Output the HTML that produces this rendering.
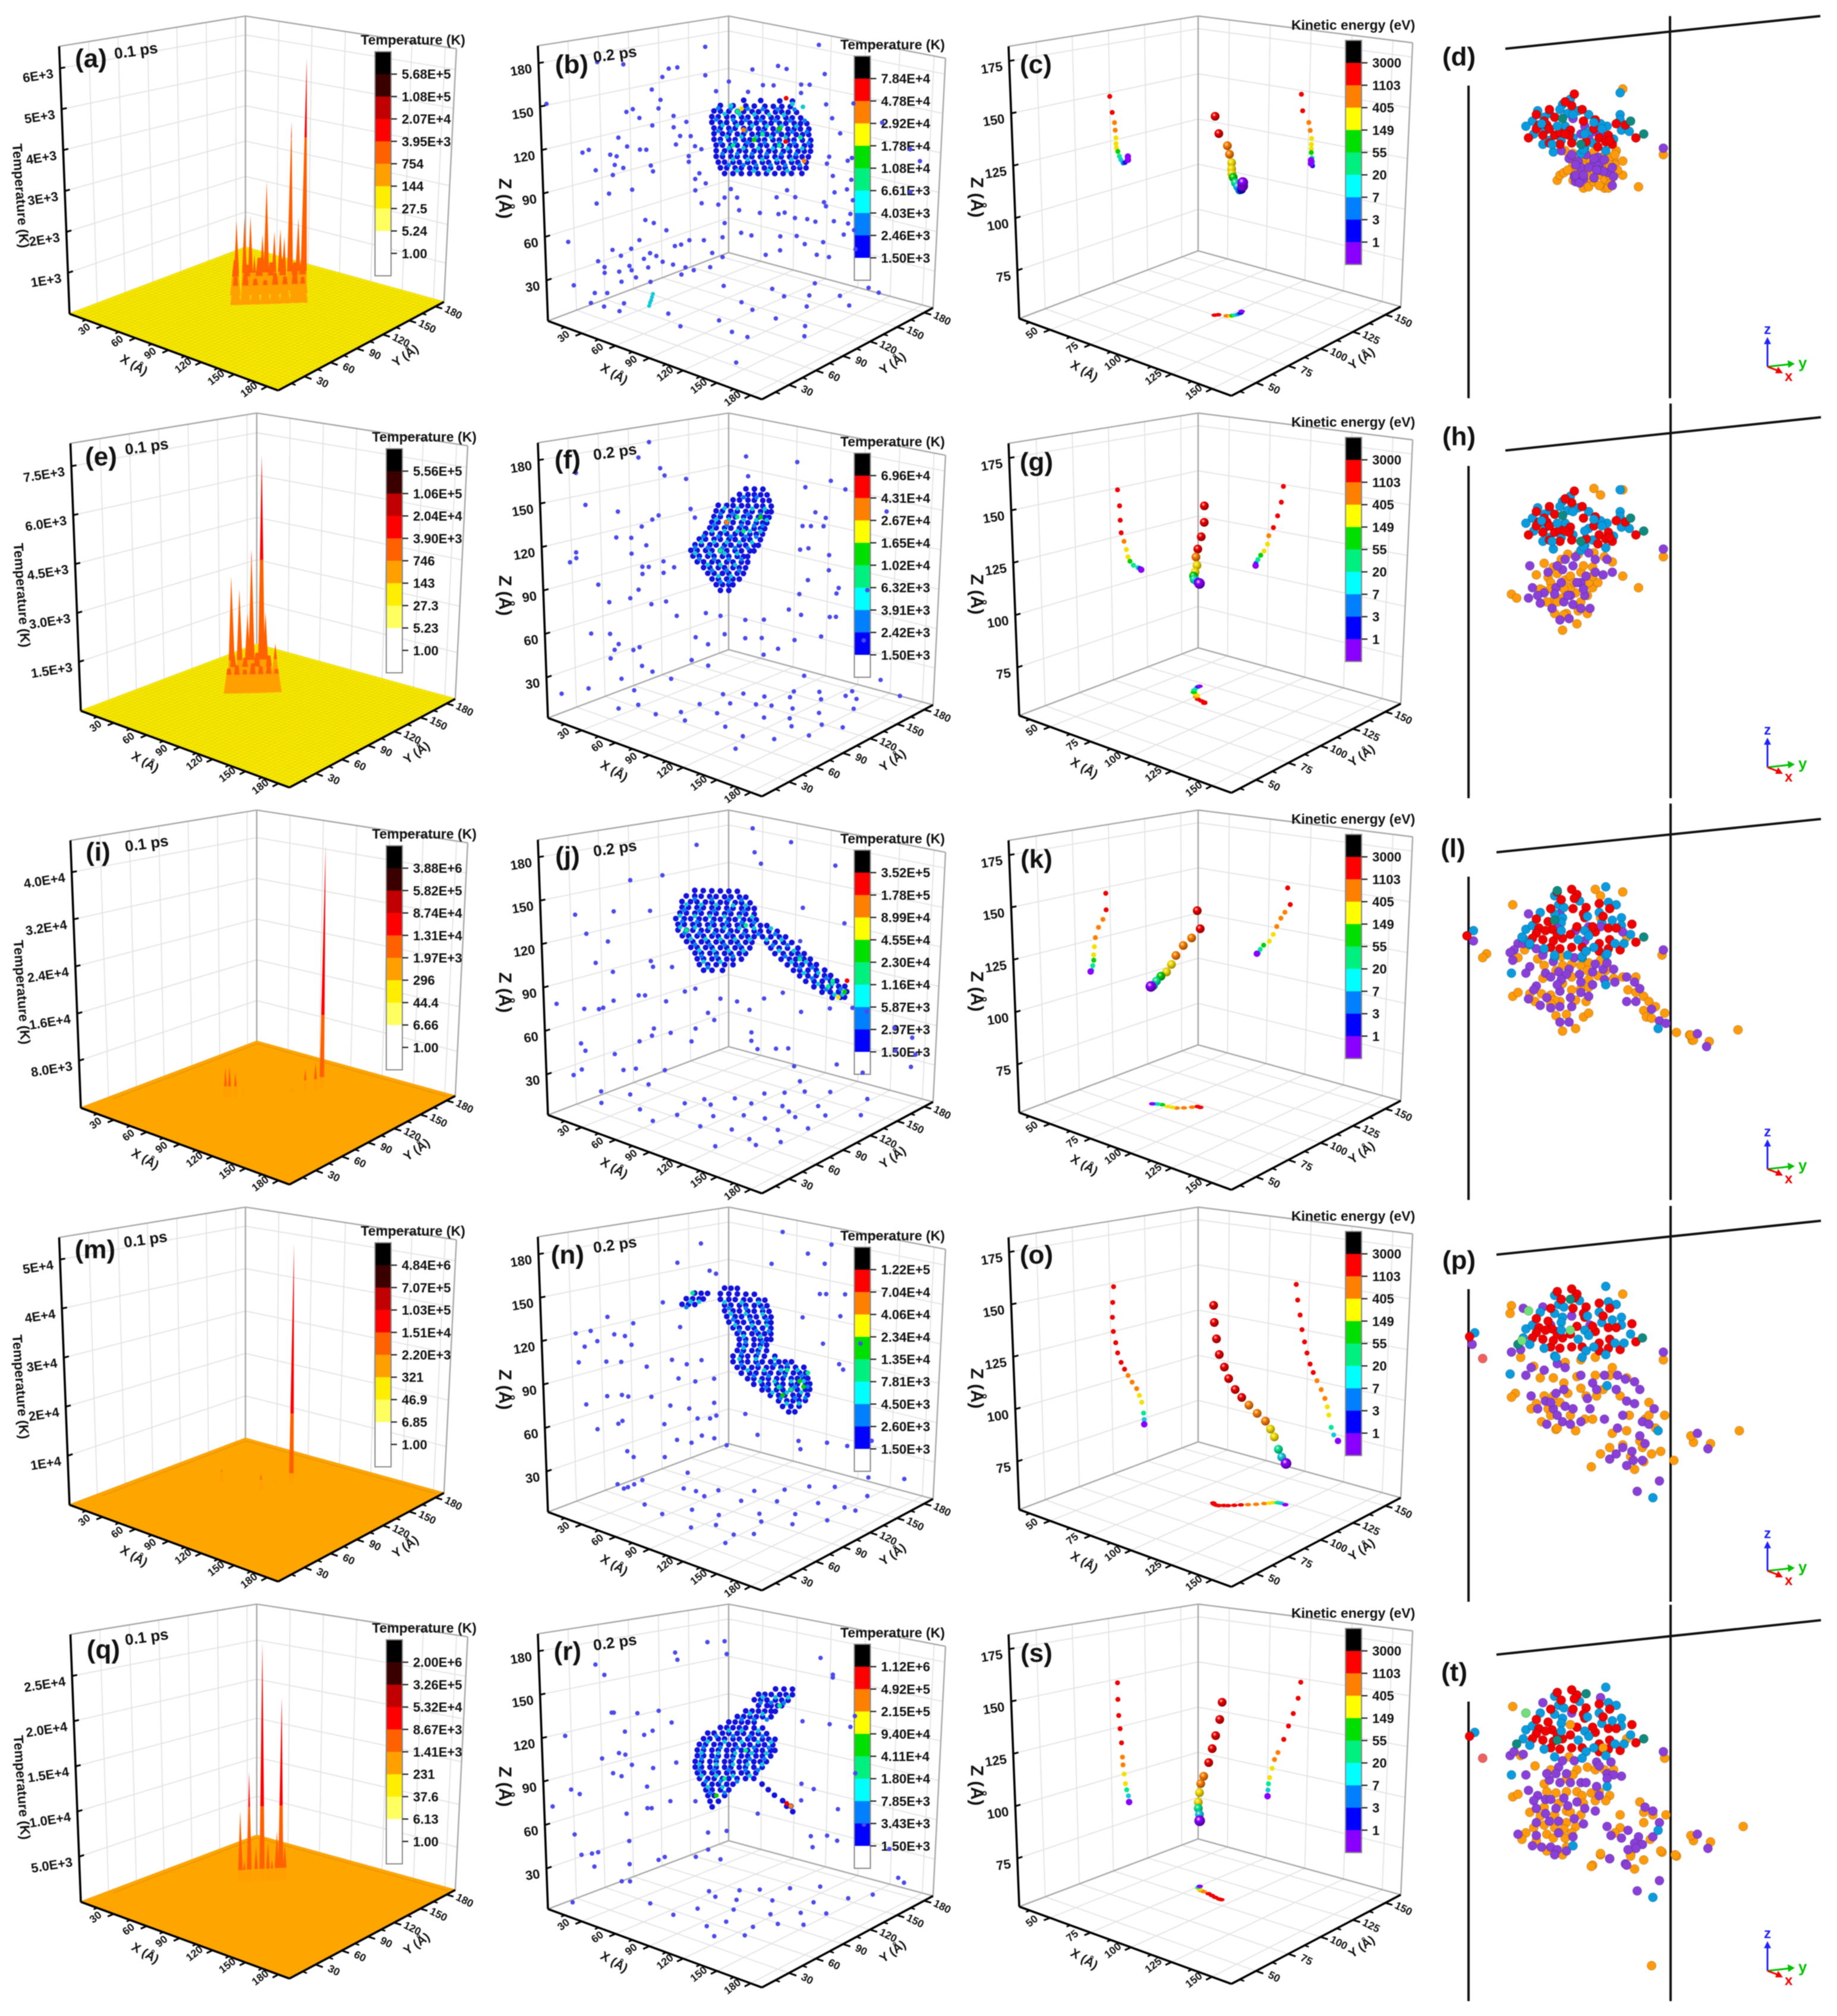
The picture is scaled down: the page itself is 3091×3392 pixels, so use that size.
<!DOCTYPE html>
<html lang="en"><head><meta charset="utf-8"><title>Temperature and kinetic energy panels</title>
<style>
html,body{margin:0;padding:0;background:#fff}
svg{display:block;filter:blur(.7px)}
text{font-family:"Liberation Sans",sans-serif;font-weight:bold;fill:#111}
.lab{font-size:44px;text-anchor:middle}
.time{font-size:26px;text-anchor:middle}
.cbt{font-size:23px;text-anchor:middle}
.zt{font-size:23px;text-anchor:middle}
.zz{font-size:30px;text-anchor:middle}
.axt{font-size:21px;text-anchor:middle}
</style></head><body>
<svg id="figure" width="3091" height="3392" viewBox="0 0 3091 3392">
<defs id="defs"></defs>
<rect width="3091" height="3392" fill="#fff"/>

<g id="panel-a" transform="translate(0,0)"><g id="m-a"></g>
<text class="lab" x="153" y="113">(a)</text><text class="time" transform="translate(230,94) rotate(-8)">0.1 ps</text><text class="cbt" x="695" y="75">Temperature (K)</text><text class="zt" transform="translate(27,330) rotate(86)">Temperature (K)</text><text class="axt" transform="translate(222,620) rotate(30)">X (Å)</text><text class="axt" transform="translate(686,604) rotate(-35)">Y (Å)</text></g>
<g id="panel-e" transform="translate(19,668)"><g id="m-e"></g>
<text class="lab" x="151" y="115">(e)</text><text class="time" transform="translate(229,92) rotate(-8)">0.1 ps</text><text class="cbt" x="695" y="75">Temperature (K)</text><text class="zt" transform="translate(10,334) rotate(86)">Temperature (K)</text><text class="axt" transform="translate(222,620) rotate(30)">X (Å)</text><text class="axt" transform="translate(686,604) rotate(-35)">Y (Å)</text></g>
<g id="panel-i" transform="translate(19,1336)"><g id="m-i"></g>
<text class="lab" x="146" y="112">(i)</text><text class="time" transform="translate(229,92) rotate(-8)">0.1 ps</text><text class="cbt" x="695" y="75">Temperature (K)</text><text class="zt" transform="translate(10,334) rotate(86)">Temperature (K)</text><text class="axt" transform="translate(222,620) rotate(30)">X (Å)</text><text class="axt" transform="translate(686,604) rotate(-35)">Y (Å)</text></g>
<g id="panel-m" transform="translate(0,2004)"><g id="m-m"></g>
<text class="lab" x="160" y="113">(m)</text><text class="time" transform="translate(246,90) rotate(-8)">0.1 ps</text><text class="cbt" x="695" y="75">Temperature (K)</text><text class="zt" transform="translate(27,330) rotate(86)">Temperature (K)</text><text class="axt" transform="translate(222,620) rotate(30)">X (Å)</text><text class="axt" transform="translate(686,604) rotate(-35)">Y (Å)</text></g>
<g id="panel-q" transform="translate(19,2672)"><g id="m-q"></g>
<text class="lab" x="155" y="118">(q)</text><text class="time" transform="translate(229,91) rotate(-8)">0.1 ps</text><text class="cbt" x="695" y="75">Temperature (K)</text><text class="zt" transform="translate(10,336) rotate(86)">Temperature (K)</text><text class="axt" transform="translate(222,620) rotate(30)">X (Å)</text><text class="axt" transform="translate(686,604) rotate(-35)">Y (Å)</text></g>

<g id="panel-b" transform="translate(0,0)"><g id="m-b"></g>
<text class="lab" x="962" y="123">(b)</text><text class="time" transform="translate(1036,100) rotate(-8)">0.2 ps</text><text class="cbt" x="1502" y="83">Temperature (K)</text><text class="zz" transform="translate(840,334) rotate(90)">Z (Å)</text><text class="axt" transform="translate(1030,635) rotate(30)">X (Å)</text><text class="axt" transform="translate(1506,617) rotate(-35)">Y (Å)</text></g>
<g id="panel-f" transform="translate(0,668)"><g id="m-f"></g>
<text class="lab" x="955" y="120">(f)</text><text class="time" transform="translate(1036,101) rotate(-8)">0.2 ps</text><text class="cbt" x="1502" y="83">Temperature (K)</text><text class="zz" transform="translate(840,334) rotate(90)">Z (Å)</text><text class="axt" transform="translate(1030,635) rotate(30)">X (Å)</text><text class="axt" transform="translate(1506,617) rotate(-35)">Y (Å)</text></g>
<g id="panel-j" transform="translate(0,1336)"><g id="m-j"></g>
<text class="lab" x="955" y="119">(j)</text><text class="time" transform="translate(1036,100) rotate(-8)">0.2 ps</text><text class="cbt" x="1502" y="83">Temperature (K)</text><text class="zz" transform="translate(840,334) rotate(90)">Z (Å)</text><text class="axt" transform="translate(1030,635) rotate(30)">X (Å)</text><text class="axt" transform="translate(1506,617) rotate(-35)">Y (Å)</text></g>
<g id="panel-n" transform="translate(0,2004)"><g id="m-n"></g>
<text class="lab" x="955" y="122">(n)</text><text class="time" transform="translate(1036,99) rotate(-8)">0.2 ps</text><text class="cbt" x="1502" y="83">Temperature (K)</text><text class="zz" transform="translate(840,334) rotate(90)">Z (Å)</text><text class="axt" transform="translate(1030,635) rotate(30)">X (Å)</text><text class="axt" transform="translate(1506,617) rotate(-35)">Y (Å)</text></g>
<g id="panel-r" transform="translate(0,2672)"><g id="m-r"></g>
<text class="lab" x="955" y="121">(r)</text><text class="time" transform="translate(1036,100) rotate(-8)">0.2 ps</text><text class="cbt" x="1502" y="83">Temperature (K)</text><text class="zz" transform="translate(840,334) rotate(90)">Z (Å)</text><text class="axt" transform="translate(1030,635) rotate(30)">X (Å)</text><text class="axt" transform="translate(1506,617) rotate(-35)">Y (Å)</text></g>

<g id="panel-c" transform="translate(0,0)"><g id="m-c"></g>
<text class="lab" x="1743" y="123">(c)</text><text class="cbt" x="2277" y="50">Kinetic energy (eV)</text><text class="zz" transform="translate(1634,332) rotate(90)">Z (Å)</text><text class="axt" transform="translate(1821,630) rotate(30)">X (Å)</text><text class="axt" transform="translate(2295,609) rotate(-35)">Y (Å)</text></g>
<g id="panel-g" transform="translate(0,668)"><g id="m-g"></g>
<text class="lab" x="1744" y="124">(g)</text><text class="cbt" x="2277" y="50">Kinetic energy (eV)</text><text class="zz" transform="translate(1634,332) rotate(90)">Z (Å)</text><text class="axt" transform="translate(1821,630) rotate(30)">X (Å)</text><text class="axt" transform="translate(2295,609) rotate(-35)">Y (Å)</text></g>
<g id="panel-k" transform="translate(0,1336)"><g id="m-k"></g>
<text class="lab" x="1744" y="124">(k)</text><text class="cbt" x="2277" y="50">Kinetic energy (eV)</text><text class="zz" transform="translate(1634,332) rotate(90)">Z (Å)</text><text class="axt" transform="translate(1821,630) rotate(30)">X (Å)</text><text class="axt" transform="translate(2295,609) rotate(-35)">Y (Å)</text></g>
<g id="panel-o" transform="translate(0,2004)"><g id="m-o"></g>
<text class="lab" x="1744" y="122">(o)</text><text class="cbt" x="2277" y="50">Kinetic energy (eV)</text><text class="zz" transform="translate(1634,332) rotate(90)">Z (Å)</text><text class="axt" transform="translate(1821,630) rotate(30)">X (Å)</text><text class="axt" transform="translate(2295,609) rotate(-35)">Y (Å)</text></g>
<g id="panel-s" transform="translate(0,2672)"><g id="m-s"></g>
<text class="lab" x="1744" y="124">(s)</text><text class="cbt" x="2277" y="50">Kinetic energy (eV)</text><text class="zz" transform="translate(1634,332) rotate(90)">Z (Å)</text><text class="axt" transform="translate(1821,630) rotate(30)">X (Å)</text><text class="axt" transform="translate(2295,609) rotate(-35)">Y (Å)</text></g>

<g id="atoms-box" stroke="#111" stroke-width="4" fill="none">
<path d="M2533 82L3063 27M2810 27V670M2471 144V670"/>
<path d="M2533 758L3064 702M2811 679V1343M2471 784V1343"/>
<path d="M2518 1434L3064 1378M2811 1352V2019M2471 1475V2019"/>
<path d="M2518 2111L3064 2054M2811 2029V2695M2471 2169V2695"/>
<path d="M2518 2784L3064 2726M2811 2700V3367M2471 2863V3367"/>
</g>
<g id="panel-d" transform="translate(0,0)"><g id="m-d"></g><text class="lab" x="2455" y="110">(d)</text></g>
<g id="panel-h" transform="translate(0,668)"><g id="m-h"></g><text class="lab" x="2455" y="81">(h)</text></g>
<g id="panel-l" transform="translate(0,1336)"><g id="m-l"></g><text class="lab" x="2445" y="106">(l)</text></g>
<g id="panel-p" transform="translate(0,2004)"><g id="m-p"></g><text class="lab" x="2455" y="131">(p)</text></g>
<g id="panel-t" transform="translate(0,2672)"><g id="m-t"></g><text class="lab" x="2447" y="156">(t)</text></g>
</svg>
<script>
/* ---------- tick values ---------- */
const xTicksT=[30,60,90,120,150,180], xMinorT=[15,45,75,105,135,165];
const xTicksK=[50,75,100,125,150], xMinorK=[37.5,62.5,87.5,112.5,137.5];
const zTicksScatter=[30,60,90,120,150,180], zTicksTraj=[75,100,125,150,175];
const zTicksA=[1000,2000,3000,4000,5000,6000], zLabelsA=['1E+3','2E+3','3E+3','4E+3','5E+3','6E+3'];
const zTicksE=[1500,3000,4500,6000,7500], zLabelsE=['1.5E+3','3.0E+3','4.5E+3','6.0E+3','7.5E+3'];
const zTicksI=[8000,16000,24000,32000,40000], zLabelsI=['8.0E+3','1.6E+4','2.4E+4','3.2E+4','4.0E+4'];
const zTicksM=[10000,20000,30000,40000,50000], zLabelsM=['1E+4','2E+4','3E+4','4E+4','5E+4'];
const zTicksQ=[5000,10000,15000,20000,25000], zLabelsQ=['5.0E+3','1.0E+4','1.5E+4','2.0E+4','2.5E+4'];
/* ---------- colorbar labels ---------- */
const cbA=['5.68E+5','1.08E+5','2.07E+4','3.95E+3','754','144','27.5','5.24','1.00'];
const cbE=['5.56E+5','1.06E+5','2.04E+4','3.90E+3','746','143','27.3','5.23','1.00'];
const cbI=['3.88E+6','5.82E+5','8.74E+4','1.31E+4','1.97E+3','296','44.4','6.66','1.00'];
const cbM=['4.84E+6','7.07E+5','1.03E+5','1.51E+4','2.20E+3','321','46.9','6.85','1.00'];
const cbQ=['2.00E+6','3.26E+5','5.32E+4','8.67E+3','1.41E+3','231','37.6','6.13','1.00'];
const cbB=['7.84E+4','4.78E+4','2.92E+4','1.78E+4','1.08E+4','6.61E+3','4.03E+3','2.46E+3','1.50E+3'];
const cbF=['6.96E+4','4.31E+4','2.67E+4','1.65E+4','1.02E+4','6.32E+3','3.91E+3','2.42E+3','1.50E+3'];
const cbJ=['3.52E+5','1.78E+5','8.99E+4','4.55E+4','2.30E+4','1.16E+4','5.87E+3','2.97E+3','1.50E+3'];
const cbN=['1.22E+5','7.04E+4','4.06E+4','2.34E+4','1.35E+4','7.81E+3','4.50E+3','2.60E+3','1.50E+3'];
const cbR=['1.12E+6','4.92E+5','2.15E+5','9.40E+4','4.11E+4','1.80E+4','7.85E+3','3.43E+3','1.50E+3'];
const cbKE=['3000','1103','405','149','55','20','7','3','1'];
/* ---------- surface peaks: x, y, temperature ---------- */
const spikesA=[56,116,1840,60,120,1910,63,123,1950,65,125,940,69,129,1470,71,131,2840,75,135,1530,78,138,1600,80,140,1390,83,143,4370,87,147,1880,90,150,6030];
const columnsA=[72,96,700,77,101,820,82,106,640,87,111,600,92,116,780,97,121,680,102,126,820,106,130,650,60,110,900,66,116,780,72,122,950,78,128,820,84,134,900,90,140,800,94,144,900];
const spikesE=[34,124,3380,38,128,2950,42,132,2170,44,134,4250,49,139,7370,51,141,2170,56,146,1130];
const columnsE=[52,100,800,56,104,900,60,108,750,64,112,950,68,116,850,72,120,900,76,124,750,44,114,1000,50,120,900,56,126,1050,62,132,950];
const spikesI=[59,88,5300,61,90,5500,64,93,4400,67,98,2000,88,127,1640,94.5,134,4050,99,140,5000,100,146,43600];
const spikesM=[47,110,2940,78,117,3520,79,131,1170,87,140,51700];
const spikesQ=[55,109,8300,59,114,12770,65,121,27770,68,124,4470,62,118,4000,74,131,21390,72,129,5750,70,126,2500,57,111,2500,76,133,4200];
/* ---------- scatter: off-cluster atoms (position along x=y, z) ---------- */
const sparseB=[77,195,130,199,27,182,39,181,60,179,64,180,57,173,77,175,99,180,111,183,115,181,133,178,3,152,52,164,56,157,55,151,40,148,43,150,46,144,52,139,62,146,68,142,82,164,88,171,97,164,104,169,109,169,122,170,126,170,122,164,134,156,147,157,137,146,141,135,161,143,62,138,65,132,70,132,36,130,40,124,46,122,49,122,63,126,72,125,75,123,69,118,69,114,19,119,22,121,32,118,35,117,34,111,38,109,51,111,52,107,25,107,33,104,74,106,72,102,77,99,31,91,42,94,72,94,89,95,25,84,75,85,83,84,86,89,92,89,111,89,116,94,120,89,134,85,135,82,139,92,145,94,148,86,135,113,136,118,145,115,147,117,138,104,147,101,175,123,180,114,176,91,147,76,146,69,139,71,93,80,103,78,112,77,115,78,120,74,126,73,130,71,48,73,52,71,86,71,58,66,94,64,99,62,113,61,121,61,144,61,149,64,11,57,45,59,62,55,65,56,69,59,76,59,85,61,32,52,41,53,50,50,36,48,53,48,80,50,85,47,106,48,113,51,125,55,134,56,150,50,131,47,137,45,25,44,47,46,56,44,28,40,40,41,49,40,35,37,41,38,61,42,67,40,71,38,79,40,28,36,36,30,43,33,50,30,65,35,13,27,23,22,29,22,21,15,37,15];
const sparseF=[51,195,17,172,46,184,56,177,68,170,58,172,21,150,36,146,70,149,72,143,96,187,97,173,120,184,136,171,124,166,143,165,163,149,129,148,134,144,123,138,127,138,133,138,55,144,52,141,47,136,35,128,42,128,49,123,42,117,16,117,16,113,13,110,47,108,50,108,47,103,57,112,62,108,26,95,45,92,57,104,41,86,31,83,51,82,58,84,63,74,77,76,84,74,96,71,105,71,122,121,126,122,136,117,136,106,126,99,122,89,141,93,140,89,155,91,117,78,123,74,137,72,140,72,104,58,120,56,133,58,112,50,96,58,86,61,72,59,78,54,22,61,31,61,35,54,33,50,31,44,42,50,45,52,46,39,51,35,70,43,78,39,36,30,42,22,20,23,7,19,60,30,105,46,125,30,154,54,163,24,173,11,149,17];
const sparseJ=[99,205,117,196,73,192,100,188,103,180,57,170,42,166,138,180,34,144,16,141,21,128,31,123,51,145,123,149,143,138,122,125,25,108,33,102,51,110,52,106,61,106,45,86,48,86,6,79,19,76,26,76,28,77,33,82,58,82,67,89,72,91,84,84,92,82,98,76,105,84,114,88,123,74,137,76,148,76,155,73,169,60,180,39,178,30,78,74,81,69,72,63,60,60,52,63,70,54,51,58,45,54,17,52,19,47,33,45,37,34,43,35,13,30,17,34,26,19,26,11,40,17,49,24,57,34,99,60,102,48,111,48,117,48,99,54,120,35,123,24,141,35,154,28,178,52,170,43];
const sparseN=[113,201,75,191,125,186,136,193,108,178,133,179,64,177,79,172,82,170,16,126,23,128,31,138,43,134,20,117,26,121,34,126,39,125,42,119,17,106,30,107,37,107,49,104,57,149,65,132,68,106,61,109,75,109,72,94,81,96,64,96,20,77,30,83,37,84,40,83,51,83,60,77,69,75,81,79,73,68,79,68,82,70,25,60,37,66,35,64,57,64,63,53,70,51,75,56,81,54,87,49,96,71,102,56,122,51,123,45,136,49,146,46,158,49,175,19,157,22,143,102,131,157,134,157,141,141,123,140,143,157,151,121,133,121,141,106,34,22,39,20,42,22,46,25,37,19,57,41,42,41,39,45,68,30,72,17,66,19];
const sparseR=[63,182,64,177,78,190,86,191,87,182,131,181,137,169,26,172,30,165,33,139,34,139,45,139,55,141,61,133,39,126,48,124,52,127,11,122,36,111,39,110,28,107,42,103,52,101,63,105,33,97,37,95,49,88,13,85,17,82,4,73,49,73,51,73,39,69,60,78,72,78,78,56,87,57,102,69,123,90,129,86,141,71,149,97,136,133,146,131,137,167,148,139,123,135,123,78,128,52,136,52,141,48,14,54,17,40,22,41,25,42,23,32,40,34,40,50,40,22,36,22,12,7,54,37,57,39,72,39,78,44,84,37,129,44,154,59,167,40,172,18,175,14];
/* ---------- scatter: atoms lying near the floor (x, y) ---------- */
const floorB=[46,132,93,175,76,149,130,190,76,116,92,143,105,155,123,167,142,187,117,138,140,157,91,110,86,80,73,54,52,66,25,46,12,45,114,108,139,110,150,96,106,70,120,70,142,31];
const floorF=[60,115,70,125,85,130,95,150,110,160,75,105,100,140,120,150,130,165,60,90,90,115,100,120,115,125,135,130,150,150,140,165,80,85,110,100,125,110,135,100,150,115,60,70,72,60,50,55,30,60,25,45,100,70,120,65,140,75,130,45,155,95,165,120];
const floorJ=[60,95,75,110,85,130,95,140,105,150,120,160,55,80,70,90,90,110,110,120,130,135,150,165,85,75,100,90,115,95,130,110,145,125,150,100,65,60,90,55,110,65,130,60,120,35,140,55,150,70,60,40,40,50,135,85,120,115,165,140];
const floorN=[60,110,80,125,95,140,105,155,120,165,60,95,85,105,105,120,130,135,150,165,150,140,130,110,110,95,70,70,90,75,120,85,140,95,155,115,100,60,120,55,130,65,60,50,40,55,125,40,160,140,90,45];
const floorR=[60,100,75,115,85,125,100,140,115,155,70,95,85,100,105,115,130,130,145,150,155,165,75,70,95,85,120,95,135,110,150,120,105,65,125,70,130,55,100,50,70,50,45,55,115,40,135,85,150,95];
/* streak rising off the floor: x, y, z */
const streakB=[33,68,4,33,69,6,34,69,8,34,70,10,34,71,12];
/* ---------- scatter: cold cluster, one row per z: [z, positions...] ---------- */
const rowsB=[[158,95,103,112,118],[154,84,90,96,100,105,109,113,117],[150,81,84,88,92,95,99,102,106,110,113,116,120],[146,80,83,87,90,94,97,101,104,108,111,115,118,122],[142,80,84,87,91,94,98,101,105,108,112,115,119,122,125],[138,81,84,88,91,95,98,102,105,109,112,116,119,122,126],[134,81,85,88,92,95,99,102,106,109,113,116,120,123,126],[130,81,84,88,91,95,98,102,105,109,112,116,119,123,127],[126,82,85,89,92,96,99,103,106,110,113,117,120,124,127],[122,82,86,89,93,96,100,103,107,110,114,117,121,124,127],[118,82,85,89,92,96,99,103,106,110,113,117,120,123,126],[114,83,86,90,93,97,100,104,107,111,114,118,121,125],[110,84,87,91,94,98,101,105,108,112,115,119,122,125],[106,86,90,94,98,102,106,110,114,118,123]];
const rowsF=[[164,96,100,104],[160,93,97,100,103,106],[156,90,93,97,100,104,107],[152,83,87,90,94,97,101,104,108],[148,82,85,89,92,96,99,103,106,108],[144,81,84,88,91,95,98,102,105,107],[140,80,83,87,90,94,97,101,104,106],[136,79,82,86,89,93,96,100,103,105],[132,77,80,84,87,91,94,98,101,104],[128,74,77,81,84,88,91,95,98,103],[124,72,75,79,82,86,89,93,96,100,102],[120,70,73,77,80,84,87,91,94,98,100],[116,71,74,78,81,85,88,92,95,97],[112,73,76,80,83,87,90,94,97],[108,76,79,83,86,90,93,96],[104,78,81,85,88,92,95],[100,80,83,87,90,93],[96,82,85,88,90],[92,84,88]];
const rowsJ=[[160,72,76,80,84,88,92],[156,68,72,75,79,82,86,89,93,96],[152,66,70,73,77,80,84,87,91,94,98],[148,66,69,73,76,80,83,87,90,94,97,100],[144,65,68,72,75,79,82,86,89,93,96,100],[140,63,67,70,74,77,81,84,88,91,95,98,101],[136,64,67,71,74,78,81,85,88,92,95,99,103,106],[132,64,68,71,75,78,82,85,89,92,96,100,103,107,111],[128,66,69,73,76,80,83,87,90,94,97,100,104,108,112,115],[124,68,71,75,78,82,85,89,92,96,99,106,110,114,118],[120,70,73,77,80,84,87,91,94,98,108,112,116,121],[116,72,75,79,82,86,89,93,96,110,114,118,121,124],[112,73,76,80,83,87,90,94,113,117,120,124,127],[108,74,78,82,86,90,116,120,123,127,130],[104,76,80,85,119,122,126,130,134],[100,122,126,130,134,137],[96,125,129,133,137,140],[92,129,133,137,141,144],[88,133,137,141,145],[84,138,142,144]];
const rowsN=[[160,86,89,92],[156,72,75,78,84,88,92,96,100],[152,68,71,74,76,84,88,91,95,98,102,105],[148,66,69,72,86,89,93,96,100,103,106],[144,86,90,93,97,100,104,107],[140,87,91,94,98,101,105,108],[136,88,92,95,99,102,106,108],[132,90,93,97,100,104,108],[128,92,95,99,102,105,108],[124,93,96,100,103,106,108],[120,93,96,100,103,106],[116,92,95,99,102,106],[112,90,94,97,101,105,110],[108,90,94,97,101,104,108,112,115,118],[104,92,95,99,102,106,109,113,116,120,124],[100,94,98,101,105,108,112,115,119,122,125],[96,97,100,104,107,111,114,118,121,124,126],[92,100,104,107,111,114,118,121,125,127],[88,104,107,111,114,118,121,125,127],[84,108,112,115,119,122,126],[80,112,116,119,122,125],[76,114,118,122],[72,117,120]];
const rowsR=[[158,110,114,118],[154,102,105,108,112,115,118],[150,100,103,106,110,113,116],[146,102,106,108,111,113],[142,96,99,102,105,108,110],[138,92,95,98,101,104,108],[134,88,91,94,97,100],[130,84,87,90,93,96,100,104],[126,78,81,85,88,92,95,99,102,106],[122,76,79,83,86,90,93,97,100,104,107,110],[118,74,77,81,84,88,91,95,98,102,105,109],[114,73,76,80,83,87,90,94,97,101,104,108,110],[110,73,76,80,83,87,90,94,97,101,104,108],[106,72,75,79,82,86,89,93,96,100,103,106],[102,72,75,79,82,86,89,93,96,100,104],[98,73,76,80,83,87,90,94,97,101],[94,74,78,81,85,88,92,96,100],[90,76,80,83,87,90,104],[86,77,80,84,88,107],[82,78,81,86,110],[78,79,83,114],[74,80,116,118],[70,119]];
/* ---------- scatter: warmer cluster rows: [z, level, positions...] ---------- */
const warmB=[[152,2,83,89,97,104,111,119],[148,3,86,93,100,107,114],[144,2,82,90,96,103,110,117,124],[140,3,85,92,99,106,113,120],[136,2,83,89,96,104,111,118,125],[132,3,87,94,101,108,115,122],[128,2,84,91,97,105,112,119,126],[124,3,88,95,102,109,116,123],[120,2,85,92,99,106,113,120],[116,3,90,97,104,111,118],[112,2,88,95,101,108,115,122],[108,3,92,100,107,116]];
const warmF=[[158,2,95,101],[150,3,86,92,99,105],[146,2,84,90,97,103],[142,3,82,88,95,101,106],[138,2,81,87,94,100,104],[134,3,80,86,92,98,103],[130,2,76,83,89,96,101],[126,3,75,81,87,93,99],[122,2,72,78,85,91,97],[118,3,72,79,86,92],[114,2,74,81,88,94],[110,3,78,84,91],[106,2,80,87,93],[102,3,83,89],[98,2,84,88]];
const warmJ=[[154,2,72,80,88,94],[150,3,68,75,82,90,96],[146,2,67,74,81,88,95],[142,3,65,72,79,86,93,99],[138,2,66,73,80,87,94,100],[134,3,65,72,79,86,93,100,108],[130,2,67,74,81,88,95,102,110],[126,3,70,77,84,91,98,106,113],[122,2,72,79,86,93,109,116],[118,3,74,81,88,95,112,119],[114,2,75,82,90,115,122],[110,3,76,84,118,125],[106,2,78,122,128],[102,3,124,131],[98,2,128,135],[94,3,131,138],[90,2,135,142],[86,3,139,143]];
const warmN=[[150,3,70,74,86,94,102],[146,2,68,88,96,104],[142,3,89,96,104],[138,2,90,98,106],[134,3,91,99,106],[130,2,93,101,107],[126,3,95,103],[122,2,96,104],[118,3,95,103],[114,2,94,102],[110,3,93,101,110],[106,2,94,102,110,116],[102,3,97,105,113,121],[98,2,100,107,115,123],[94,3,103,110,118,124],[90,2,106,113,120,126],[86,3,109,116,123],[82,2,113,120,125],[78,3,116,122]];
const warmR=[[152,3,104,110,116],[148,2,103,108,114],[140,3,98,104],[136,2,94,100,106],[128,3,88,94,102],[124,2,82,90,98,104],[120,3,78,86,94,102,108],[116,2,76,84,92,100,107],[112,3,75,83,91,99,106],[108,2,75,82,90,98,105],[104,3,74,82,90,97,104],[100,2,74,81,88,96,102],[96,3,75,82,90,98],[92,2,77,84,92],[88,3,78,85],[84,2,79,86]];
/* ---------- scatter: hottest atoms (position, z, colour level) ---------- */
const hotB=[89,150,3,92,146,4,95,133,7,94,148,6,115,156,8,115,125,8,124,111,7,104,130,4,112,122,4,122,128,4,90,122,4,112,134,5,100,126,5,118,152,3,123,150,3];
const hotF=[92,140,4,95,130,4,84,116,4,87,136,7,103,140,5];
const hotJ=[68,128,4,96,132,4,122,108,4,138,92,4,144,84,5,141,80,6,145,92,8,136,88,4];
const hotN=[71,152,4,116,98,4,122,90,5,124,86,5,118,84,4,112,86,4,126,96,4,114,80,5];
const hotR=[96,110,4,82,78,5,112,142,4,116,72,8,118,70,7,86,90,4];
/* ---------- trajectories ---------- */
const trajCx=[95,96,100,101,102,102,102,102,102.5,103,103,103,102,102];
const trajCy=[100,101.5,103,103.4,103.8,103.8,104,105,106,107,108.6,110,112,112];
const trajCz=[148,139.5,134,130,126,123,120.7,118.7,116,114,112,112,113,114.7];
const trajCe=[8,8,7,7,6,6,6,5,4,3,2,1,0,0];
const trajGx=[83.8,82.7,80.6,78.1,75.3,74.6,72.5,70.4,68.7,67.6,67.3,67.3];
const trajGy=[105.5,106.7,107,107.5,109.4,111,112,113.4,115.8,119,120.5,121.3];
const trajGz=[149,140.5,133,126.4,121.6,117,113,110.4,107.8,105.9,105.1,104.3];
const trajGe=[8,8,8,8,7,6,6,5,4,3,1,0];
const trajKx=[86.5,88.3,85.1,82.7,80.2,78.1,75.7,72.2,70.1,69,68];
const trajKy=[97.2,97.2,94.8,91.6,89.2,88.4,87.7,87.7,86.9,86.1,85.3];
const trajKz=[147,138.5,134,130.5,125.7,121.2,117.2,114.5,111.9,109.7,109.2];
const trajKe=[8,8,7,7,7,6,6,5,4,3,0];
const trajOx=[91.8,92.9,94.6,96,97.8,99.5,101.6,103.7,106.2,109,111.5,113.2,114.3,116,117.8,120.6];
const trajOy=[102.7,101.9,101.5,101.9,103.5,104.7,107,109.4,111.8,114.6,117.8,119.7,121.3,122.5,122.9,122.9];
const trajOz=[148,140,132.4,125,118.9,113.4,108,104,100.2,96.1,92,88,84,78,74.5,72];
const trajOe=[8,8,8,8,8,8,8,8,7,7,7,6,6,4,3,0];
const trajSx=[94.6,93.2,90.4,87.6,84.8,81.3,79.2,77.8,76.4,75.7,75.4,75.2];
const trajSy=[105.5,105.5,105.9,106.7,107.5,108,108.3,109,109.8,110.6,111.8,112.2];
const trajSz=[148,139.4,131,124,116.5,109,104.9,100,94.8,91.4,88,84.7];
const trajSe=[8,8,8,8,8,7,7,6,6,4,3,0];
/* ---------- atom snapshots (Y, Z in Å) ---------- */
const capAzure=[148,237,110,232,104,228,102,224,85,223,94,221,90,218,81,215,76,211,91,208,82,205,108,221,116,223,124,220,106,211,124,207,138,211,148,220,148,216,149,208,155,207,143,201,137,192,127,198,121,194,118,190,97,191,89,197,103,200,94,200,112,202,133,213,120,193];
const capRed=[113,236,111,227,106,230,119,224,94,224,84,220,98,218,86,212,92,212,84,209,78,202,89,204,98,204,102,206,110,208,94,198,102,197,111,198,120,215,129,216,128,209,145,213,152,212,160,202,139,204,132,202,137,199,131,195,142,197,109,204,140,200,94,209,106,205,122,199,90,215];
const capAzureTop=[128,214,112,220,96,197,121,205,134,209,100,211,88,213];
const capTeal=[156,215,166,205,104,217,118,197];
const lateAzure=[137,232,98,225,117,221,101,218,105,216,139,220,145,218,87,212,98,211,132,212,149,208,104,208,103,204,76,199,81,202,149,202,134,204];
const lateRed=[100,228,111,230,115,226,113,223,103,222,132,219,140,215,122,216,112,215,95,215,121,208,135,209,84,207,93,205,115,201,139,200,145,200,157,203,96,199,86,200,84,196,110,195,129,197,89,191,81,192,140,191,132,188,160,189,148,183,95,185,102,184,111,185,119,185,132,182,139,184,104,192,97,190,127,201,91,198,120,211,100,195];
const lateAzureTop=[142,206,103,198,121,198,124,194,74,192,79,187,90,184,116,191,128,185,144,188,151,188,156,195,122,182,119,177,137,179,98,178,123,209];
const orangeD=[150,240,181,189,162,164,100,169,102,173,105,175,110,177,114,177,145,192,150,184,143,185,150,173,136,163,139,163,120,163,124,164,128,168,136,170,141,167,141,178,125,178,121,181,124,186,136,183,140,173,131,173,117,171,106,192,112,190,128,191,140,187,144,181,112,181,132,165,146,177,108,177,120,177,130,181,136,177,118,175,112,169,124,171,140,181,144,189,134,187,120,187,128,177,115,187];
const purpleD=[181,194,112,217,118,205,121,211,109,186,116,184,128,183,132,181,131,187,120,170,114,168,113,172,142,165,139,175,143,172,132,177,103,192,128,207,133,205,124,203,118,179,135,176,114,173,117,167,124,179,128,186,130,177,136,185,142,179,120,173,128,171,111,189,122,189,114,181];
const orangeH=[181,185,162,161,65,156,69,153,150,170,128,238,150,237,133,233,90,180,84,171,89,159,104,128,98,141,107,141,115,133,123,141,116,143,97,151,104,153,114,157,106,167,118,173,127,177,136,185,142,181,108,187,97,177,127,161,123,155,93,169,110,161,131,165,95,165,100,172,105,160,112,148,118,150,124,165,100,150,92,150,110,170,120,178,103,183,116,187,128,188,95,160,87,160,105,140,113,165,127,170];
const purpleH=[181,191,79,178,78,153,81,161,87,149,93,173,102,136,109,137,112,148,121,155,118,165,129,173,135,171,142,173,106,183,114,185,99,161,104,175,129,183,138,183,110,155,98,156,105,150,115,165,122,170,90,157,96,145,108,155,120,160,125,145,100,178,112,178,124,188,103,165,85,155,118,145];
const orangeL=[66,223,129,235,133,230,150,233,133,213,153,198,75,188,70,182,90,176,85,181,90,188,66,152,70,155,79,154,83,148,88,154,104,176,99,172,111,177,118,176,124,178,133,180,123,172,111,167,89,166,95,153,104,162,111,157,118,158,124,165,124,159,102,148,114,149,98,149,95,146,122,148,99,137,107,138,120,136,124,139,104,125,114,127,131,168,137,172,143,166,150,167,160,167,154,157,160,155,166,152,170,148,175,144,166,141,168,136,172,135,182,139,191,124,201,122,203,118,180,184,103,183,238,126,216,117,204,118,202,122,46,185,43,182];
const purpleL=[78,216,102,216,70,193,67,188,64,186,66,180,74,193,84,189,89,184,79,175,76,170,97,179,91,170,95,167,101,171,109,173,107,169,103,165,117,169,118,163,127,161,127,171,129,177,135,173,143,173,136,165,144,163,153,167,159,163,163,158,153,148,160,148,172,142,178,133,183,131,84,160,82,157,78,150,87,145,92,151,102,156,100,161,110,151,118,155,124,152,95,143,111,144,102,144,102,132,109,132,181,188,113,182,138,178,214,113,207,123,36,195];
const midPurpleL=[124,206,133,206,114,203,100,205,150,202,121,195];
const azureL=[65,170,177,127,137,161,36,203,73,198,98,184,108,184,119,183,138,185,122,187,79,193];
const redL=[31,199];
const tealL=[100,234,166,198,98,211];
const orangeP=[239,123,217,113,204,114,202,119,182,135,181,178,189,100,179,107,166,99,159,93,156,103,133,105,126,95,150,229,65,220,64,214,72,180,82,173,68,152,65,149,99,124,114,123,121,132,127,132,93,140,84,144,80,140,97,150,108,152,87,164,97,164,118,156,129,166,140,166,142,172,106,176,118,178,129,180,153,164,170,145,167,132,142,121,153,123,163,115,90,150,102,145,110,135,95,135,88,130,100,125,105,160,115,165,122,150,130,150,135,155,148,150,155,135,170,135,175,125,150,112,140,110,165,110,172,105];
const purpleP=[181,184,207,121,215,109,178,84,161,76,153,96,140,101,157,107,163,119,167,113,146,125,153,146,159,144,163,155,159,161,152,163,174,140,136,132,104,130,110,128,123,148,80,150,91,146,99,152,118,166,127,160,136,166,146,166,76,166,80,172,65,184,72,186,74,218,89,219,106,172,106,142,97,140,35,190,95,145,105,155,112,140,118,130,85,140,92,128,100,135,125,140,130,155,145,155,150,135,165,130,170,128,145,105,158,100,150,110,165,100,90,170,100,175];
const midPurpleP=[111,212,125,205,100,200,95,205];
const azureP=[64,167,177,123,173,71,138,158,99,180,37,199];
const redP=[33,196];
const greenP=[73,193,110,201,78,216];
const salmonP=[43,179];
const tealP=[70,190,165,195,110,225];
const orangeT=[66,217,83,171,66,147,70,149,72,179,95,168,115,168,109,178,123,170,129,168,136,168,143,168,90,157,92,151,99,150,107,151,115,151,119,148,126,150,132,151,140,148,137,144,129,144,90,139,79,135,87,132,101,142,107,136,110,135,118,133,107,127,114,124,105,122,90,125,98,123,82,123,76,119,73,114,84,113,92,118,97,115,106,115,107,108,92,105,104,102,111,119,148,133,163,143,166,135,173,133,166,127,183,133,148,123,144,119,171,114,180,104,191,101,133,102,127,94,156,102,166,98,107,161,112,164,120,142,98,133,242,124,217,112,204,113,202,117,182,177,133,103,126,93,159,91,156,101,179,105,190,102,172,16];
const purpleT=[64,179,67,182,74,180,89,220,181,182,76,164,78,152,149,163,141,174,138,165,143,164,138,161,113,175,101,170,104,175,130,174,132,171,94,160,102,158,110,158,118,158,122,158,107,165,99,165,92,165,130,155,132,148,85,148,82,144,91,145,95,145,105,146,115,143,108,140,121,138,129,136,84,138,99,138,91,134,113,130,94,128,101,128,84,127,120,126,70,118,84,117,101,119,112,116,81,109,88,108,95,108,100,106,98,102,107,105,138,124,141,117,154,121,149,115,173,136,167,139,178,127,162,116,159,111,165,110,160,107,154,106,152,95,140,99,173,116,207,118,215,107,178,82,161,74,153,94,140,99];
const midPurpleT=[111,212,133,224];
const topOrangeT=[110,203,153,192,135,185];
const azureT=[65,164,138,155,112,109,177,121,173,69,37,197];
const redT=[33,194];
const greenT=[76,212];
const salmonT=[43,177];
const tealT=[122,227,100,191,69,188,166,192];

/* ---------- palettes and frames ---------- */
const CB_T=['#000000','#3a0000','#c00000','#ff0000','#ff6000','#ffa000','#ffee00','#ffff60','#ffffff','#ffffff'];
const CB_S=['#000000','#ff0000','#ff8000','#ffff00','#00e000','#00f080','#00ffff','#0080ff','#0000ff','#ffffff'];
const CB_K=['#000000','#ff0000','#ff8000','#ffff00','#00e000','#00f080','#00ffff','#0080ff','#0000ff','#8a00ff'];
const LEVEL=['#8a00ff','#1212dc','#0a80f0','#12c8d8','#00e890','#00d000','#f4e000','#ff8000','#f00000'];
const LEVEL_DARK=['#4a0090','#000080','#004a90','#008090','#00805a','#007000','#908000','#904400','#800000'];
const ATOM={red:'#f00000',azure:'#0a9ade',teal:'#0f8a7e',purple:'#8a3fd8',orange:'#ff9a0a',green:'#6fe07a',salmon:'#f0605c'};
const F1={L:[117,528],F:[468,657],R:[747,508],B:[413,416],LT:[99.5,78],FT:[470,135],RT:[768,82],BT:[413,27]};
const F2={L:[922,540],F:[1282,672],R:[1570,518],B:[1226,425],LT:[905,77],FT:[1285,150],RT:[1591,98],BT:[1226,27]};
const F3={L:[1715,536],F:[2072,666],R:[2357,516],B:[2016,422],LT:[1697,78],FT:[2073,140],RT:[2377,72],BT:[2016,27]};
const NS='http://www.w3.org/2000/svg';

function add(parent,tag,attrs){
  const n=document.createElementNS(NS,tag);
  for(const k in attrs)n.setAttribute(k,attrs[k]);
  parent.appendChild(n);
  return n;
}
/* axis function: data -> screen through the 8 corners of the plot box */
function bil(p00,p10,p11,p01,a,b,i){
  return p00[i]*(1-a)*(1-b)+p10[i]*a*(1-b)+p11[i]*a*b+p01[i]*(1-a)*b;
}
function project(f,d,x,y,z){
  const a=(x-d.x[0])/(d.x[1]-d.x[0]), b=(y-d.y[0])/(d.y[1]-d.y[0]), c=(z-d.z[0])/(d.z[1]-d.z[0]);
  const out=[];
  for(let i=0;i<2;i++){
    const lo=bil(f.L,f.F,f.R,f.B,a,b,i), hi=bil(f.LT,f.FT,f.RT,f.BT,a,b,i);
    out.push(lo+(hi-lo)*c);
  }
  return out;
}
function seg(g,p,q,color,w){
  return add(g,'line',{x1:p[0].toFixed(1),y1:p[1].toFixed(1),x2:q[0].toFixed(1),y2:q[1].toFixed(1),stroke:color,'stroke-width':w});
}
function pts(list){return list.map(p=>p[0].toFixed(1)+','+p[1].toFixed(1)).join(' ');}

function drawWalls(host,f,d,xT,yT,zT){
  const g=add(host,'g',{});
  
  
  const [x0,x1]=d.x,[y0,y1]=d.y,[z0,z1]=d.z,c='#e3e3e3';
  zT.forEach(z=>{
    seg(g,project(f,d,x0,y0,z),project(f,d,x0,y1,z),c,1.8);
    seg(g,project(f,d,x0,y1,z),project(f,d,x1,y1,z),c,1.8);
  });
  yT.forEach(y=>{
    seg(g,project(f,d,x0,y,z0),project(f,d,x0,y,z1),c,1.8);
    seg(g,project(f,d,x0,y,z0),project(f,d,x1,y,z0),c,1.8);
  });
  xT.forEach(x=>{
    seg(g,project(f,d,x,y1,z0),project(f,d,x,y1,z1),c,1.8);
    seg(g,project(f,d,x,y0,z0),project(f,d,x,y1,z0),c,1.8);
  });
  const e='#a9a9a9';
  seg(g,f.LT,f.BT,e,2.4);seg(g,f.BT,f.RT,e,2.4);seg(g,f.RT,f.R,e,2.4);seg(g,f.BT,f.B,e,2.4);seg(g,f.L,f.B,e,2.4);seg(g,f.B,f.R,e,2.4);
}
function drawAxes(host,f,d,xT,xM,yT,yM,zT,zL){
  const g=add(host,'g',{});
  
  
  seg(g,f.LT,f.L,'#000',3.6);seg(g,f.L,f.F,'#000',3.6);seg(g,f.F,f.R,'#000',3.6);
  const [x0,x1]=d.x,[y0,y1]=d.y,[z0]=d.z,oy=(y1-y0)*.035,ox=(x1-x0)*.035;
  xM.forEach(x=>seg(g,project(f,d,x,y0,z0),project(f,d,x,y0-oy*.6,z0),'#000',2.6));
  yM.forEach(y=>seg(g,project(f,d,x1,y,z0),project(f,d,x1+ox*.6,y,z0),'#000',2.6));
  xT.forEach(x=>{
    const p=project(f,d,x,y0,z0);
    seg(g,p,project(f,d,x,y0-oy,z0),'#000',3);
    const t=add(g,'text',{transform:`translate(${(p[0]-27).toFixed(1)},${(p[1]+10).toFixed(1)}) rotate(-38)`,'text-anchor':'middle','font-size':18});
    t.textContent=String(x);
    
    
  });
  yT.forEach(y=>{
    const p=project(f,d,x1,y,z0);
    seg(g,p,project(f,d,x1+ox,y,z0),'#000',3);
    const t=add(g,'text',{transform:`translate(${(p[0]+28).toFixed(1)},${(p[1]+15).toFixed(1)}) rotate(27)`,'text-anchor':'middle','font-size':18});
    t.textContent=String(y);
    
    
  });
  zT.forEach((z,i)=>{
    const p=project(f,d,x0,y0,z);
    seg(g,p,project(f,d,x0,y0+oy*.8,z),'#000',3);
    const t=add(g,'text',{transform:`translate(${(p[0]-10).toFixed(1)},${(p[1]+16).toFixed(1)}) rotate(-9)`,'text-anchor':'end','font-size':22});
    t.textContent=zL?zL[i]:String(z);
    
    
  });
}
function drawColorbar(host,x,top,colors,labels){
  const g=add(host,'g',{}),w=27,h=37.7;
  
  
  colors.forEach((c,i)=>{
    const r=add(g,'rect',{x:x,y:(top+i*h).toFixed(1),width:w,height:h+.4,fill:c});
    
    
  });
  add(g,'rect',{x:x,y:top,width:w,height:(h*colors.length).toFixed(1),fill:'none',stroke:'#8a8a8a','stroke-width':2});
  labels.forEach((s,i)=>{
    const y=top+(i+1)*h;
    seg(g,[x+w,y],[x+w+10,y],'#222',2.2);
    const t=add(g,'text',{x:x+w+18,y:(y+8).toFixed(1),'font-size':22});
    t.textContent=s;
    
    
  });
}
function drawPeak(g,f,d,x,y,h,hw,taper,bands){
  const cols=['#ffa000','#ff6000','#ff0000','#c00000'],edges=[d.z[0],...bands,Infinity];
  for(let i=0;i<edges.length-1&&edges[i]<h;i++){
    const lo=edges[i],hi=Math.min(h,edges[i+1]);
    const p=project(f,d,x,y,lo),q=project(f,d,x,y,hi);
    const wl=hw*(1-taper*lo/h),wh=hw*(1-taper*hi/h);
    const poly=add(g,'polygon',{points:pts([[p[0]-wl,p[1]],[p[0]+wl,p[1]],[q[0]+wh,q[1]],[q[0]-wh,q[1]]]),fill:cols[i]});
    
    
  }
}
function drawSurface(host,f,d,floorColor,mesh,columns,spikes,bands,hw){
  const g=add(host,'g',{});
  
  
  const floor=add(g,'polygon',{points:pts([f.L,f.F,f.R,f.B]),fill:floorColor,stroke:floorColor,'stroke-width':2});
  
  
  const [x0,x1]=d.x,[y0,y1]=d.y,[z0]=d.z;
  if(mesh){
    for(let i=1;i<48;i++){
      const a=x0+(x1-x0)*i/48,b=y0+(y1-y0)*i/48;
      seg(g,project(f,d,a,y0,z0),project(f,d,a,y1,z0),'#d8c800',.5);
      seg(g,project(f,d,x0,b,z0),project(f,d,x1,b,z0),'#d8c800',.5);
    }
  }else{
    seg(g,project(f,d,x0+4,y1-4,z0),project(f,d,x0+4,y0+30,z0),'#e89400',1.6);
    seg(g,project(f,d,x0+4,y1-4,z0),project(f,d,x1-4,y1-4,z0),'#e89400',1.6);
  }
  const items=[];
  for(let i=0;i<columns.length;i+=3)items.push({x:columns[i],y:columns[i+1],h:columns[i+2],col:true});
  for(let i=0;i<spikes.length;i+=3)items.push({x:spikes[i],y:spikes[i+1],h:spikes[i+2],col:false});
  items.sort((p,q)=>(p.x-p.y)-(q.x-q.y));
  items.forEach(it=>drawPeak(g,f,d,it.x,it.y,it.h,it.col?9:hw,it.col?.7:1,bands));
}
function dot(g,p,r,color,name){
  const c=add(g,'circle',{cx:p[0].toFixed(1),cy:p[1].toFixed(1),r:r,fill:color});
  
  
  return c;
}
function drawScatter(host,f,d,sparse,floorPts,rows,warm,hot,streak){
  const g=add(host,'g',{});
  
  
  for(let i=0;i<sparse.length;i+=2)dot(g,project(f,d,sparse[i],sparse[i],sparse[i+1]),3.8,'#4a4aee','sparse-atom');
  for(let i=0;i<floorPts.length;i+=2)dot(g,project(f,d,floorPts[i],floorPts[i+1],d.z[0]+2),3.8,'#4a4aee','floor-atom');
  for(let i=0;i<streak.length;i+=3)dot(g,project(f,d,streak[i],streak[i+1],streak[i+2]),3.4,LEVEL[3],'streak-atom');
  rows.forEach(row=>{
    for(let i=1;i<row.length;i++)dot(g,project(f,d,row[i],row[i],row[0]),4.8,LEVEL[1],'cluster-atom');
  });
  warm.forEach(row=>{
    for(let i=2;i<row.length;i++)dot(g,project(f,d,row[i],row[i],row[0]),3.8,LEVEL[row[1]],'warm-atom');
  });
  for(let i=0;i<hot.length;i+=3)dot(g,project(f,d,hot[i],hot[i],hot[i+1]+4),4,LEVEL[hot[i+2]],'hot-atom');
}
function drawTrajectory(host,f,d,xs,ys,zs,es){
  const g=add(host,'g',{});
  
  
  xs.forEach((x,i)=>{
    const c=LEVEL[es[i]],r=es[i]===0?5.4:4.2;
    dot(g,project(f,d,d.x[0],ys[i],zs[i]),r,c,'trajectory-left-wall-projection');
    dot(g,project(f,d,x,d.y[1],zs[i]),r,c,'trajectory-right-wall-projection');
    const p=project(f,d,x,ys[i],d.z[0]);
    const el=add(g,'ellipse',{cx:p[0].toFixed(1),cy:p[1].toFixed(1),rx:5.4,ry:3,fill:c});
    
    
  });
  xs.forEach((x,i)=>{
    dot(g,project(f,d,x,ys[i],zs[i]),es[i]===0?9:7.4,`url(#ball-${es[i]})`,'trajectory-point');
  });
}
function drawAtoms(host,list,color,name,lift){
  for(let i=0;i<list.length;i+=2){
    const c=add(host,'circle',{cx:(2400+2.2035*list[i]).toFixed(1),cy:(670-2.1685*(list[i+1]+(lift||0))).toFixed(1),r:7.6,fill:color,stroke:'rgba(0,0,0,.28)','stroke-width':.8});
    
    
  }
}
function drawTriad(host,ox,oy){
  const g=add(host,'g',{});
  
  
  seg(g,[ox,oy],[ox,oy-40],'#2020ff',3);
  add(g,'polygon',{points:pts([[ox,oy-50],[ox-6,oy-38],[ox+6,oy-38]]),fill:'#2020ff'});
  seg(g,[ox,oy],[ox+36,oy-4],'#00c000',3);
  add(g,'polygon',{points:pts([[ox+46,oy-5],[ox+34,oy-11],[ox+35,oy+2]]),fill:'#00c000'});
  seg(g,[ox,oy],[ox+16,oy+6],'#f00000',3);
  add(g,'polygon',{points:pts([[ox+26,oy+11],[ox+13,oy+11],[ox+18,oy]]),fill:'#f00000'});
  const tz=add(g,'text',{x:ox,y:oy-55,'text-anchor':'middle','font-size':24,style:'fill:#2020ff'});
  tz.textContent='z';
  
  
  const ty=add(g,'text',{x:ox+52,y:oy+2,'font-size':26,style:'fill:#00c000'});
  ty.textContent='y';
  
  
  const tx=add(g,'text',{x:ox+29,y:oy+24,'font-size':24,style:'fill:#f00000'});
  tx.textContent='x';
  
  
}
/* ball shading */
const defs=document.getElementById('defs');
LEVEL.forEach((c,i)=>{
  const gr=add(defs,'radialGradient',{id:'ball-'+i,cx:'.38',cy:'.34',r:'.7'});
  add(gr,'stop',{offset:'0','stop-color':'#ffe8e0'});
  add(gr,'stop',{offset:'.3','stop-color':i===1?'#0000ff':c});
  add(gr,'stop',{offset:'1','stop-color':LEVEL_DARK[i]});
});
const m=id=>document.getElementById('m-'+id);

/* column 1: temperature surface */
[['a',6535,zTicksA,zLabelsA,cbA,'#f8e800',true,columnsA,spikesA,[480,3950],5.5],
 ['e',8200,zTicksE,zLabelsE,cbE,'#f8e800',true,columnsE,spikesE,[600,3900],6],
 ['i',45400,zTicksI,zLabelsI,cbI,'#ffa500',false,[],spikesI,[1970,13100],4],
 ['m',54500,zTicksM,zLabelsM,cbM,'#ffa500',false,[],spikesM,[2200,15100],4],
 ['q',29600,zTicksQ,zLabelsQ,cbQ,'#ffa500',false,[],spikesQ,[1410,8670],4.5]
].forEach(c=>{
  const d={x:[0,190],y:[0,190],z:[0,c[1]]},g=m(c[0]);
  drawWalls(g,F1,d,xTicksT,xTicksT,c[2]);
  drawColorbar(g,631,87,CB_T,c[4]);
  drawSurface(g,F1,d,c[5],c[6],c[7],c[8],c[9],c[10]);
  drawAxes(g,F1,d,xTicksT,xMinorT,xTicksT,xMinorT,c[2],c[3]);
});
/* column 2: scatter */
[['b',cbB,sparseB,floorB,rowsB,warmB,hotB,streakB],
 ['f',cbF,sparseF,floorF,rowsF,warmF,hotF,[]],
 ['j',cbJ,sparseJ,floorJ,rowsJ,warmJ,hotJ,[]],
 ['n',cbN,sparseN,floorN,rowsN,warmN,hotN,[]],
 ['r',cbR,sparseR,floorR,rowsR,warmR,hotR,[]]
].forEach(c=>{
  const d={x:[0,190],y:[0,190],z:[2,192]},g=m(c[0]);
  drawWalls(g,F2,d,xTicksT,xTicksT,zTicksScatter);
  drawColorbar(g,1437.5,94.5,CB_S,c[1]);
  drawScatter(g,F2,d,c[2],c[3],c[4],c[5],c[6],c[7]);
  drawAxes(g,F2,d,xTicksT,xMinorT,xTicksT,xMinorT,zTicksScatter,null);
});
/* column 3: trajectory */
[['c',trajCx,trajCy,trajCz,trajCe],['g',trajGx,trajGy,trajGz,trajGe],['k',trajKx,trajKy,trajKz,trajKe],['o',trajOx,trajOy,trajOz,trajOe],['s',trajSx,trajSy,trajSz,trajSe]].forEach(c=>{
  const d={x:[31,162],y:[31,162],z:[52,182]},g=m(c[0]);
  drawWalls(g,F3,d,xTicksK,xTicksK,zTicksTraj);
  drawColorbar(g,2264,68,CB_K,cbKE);
  drawAxes(g,F3,d,xTicksK,xMinorK,xTicksK,xMinorK,zTicksTraj,null);
  drawTrajectory(g,F3,d,c[1],c[2],c[3],c[4]);
});
/* column 4: atom snapshots, early frames */
[['d',orangeD,purpleD,617],['h',orangeH,purpleH,623]].forEach(c=>{
  const g=m(c[0]);
  drawAtoms(g,c[1],ATOM.orange,'orange-atom');
  drawAtoms(g,c[2],ATOM.purple,'purple-atom');
  drawAtoms(g,capAzure,ATOM.azure,'azure-atom');
  drawAtoms(g,capRed,ATOM.red,'red-atom');
  drawAtoms(g,capAzureTop,ATOM.azure,'azure-atom');
  drawAtoms(g,capTeal,ATOM.teal,'teal-atom');
  drawTriad(g,2974,c[3]);
});
/* column 4: atom snapshots, late frames */
[['l',orangeL,purpleL,midPurpleL,[],azureL,redL,tealL,[],[],5,631],
 ['p',orangeP,purpleP,midPurpleP,[],azureP,redP,tealP,greenP,salmonP,3,639],
 ['t',orangeT,purpleT,midPurpleT,topOrangeT,azureT,redT,tealT,greenT,salmonT,0,644]
].forEach(c=>{
  const g=m(c[0]),lift=c[10];
  drawAtoms(g,c[1],ATOM.orange,'orange-atom');
  drawAtoms(g,c[2],ATOM.purple,'purple-atom');
  drawAtoms(g,lateAzure,ATOM.azure,'azure-atom',lift);
  drawAtoms(g,c[3],ATOM.purple,'purple-atom');
  drawAtoms(g,lateRed,ATOM.red,'red-atom',lift);
  drawAtoms(g,c[4],ATOM.orange,'orange-atom');
  drawAtoms(g,lateAzureTop,ATOM.azure,'azure-atom',lift);
  drawAtoms(g,c[5],ATOM.azure,'azure-atom');
  drawAtoms(g,c[6],ATOM.red,'red-atom');
  drawAtoms(g,c[7],ATOM.teal,'teal-atom');
  drawAtoms(g,c[8],ATOM.green,'green-atom');
  drawAtoms(g,c[9],ATOM.salmon,'salmon-atom');
  drawTriad(g,2974,c[11]);
});
</script>
</body></html>
